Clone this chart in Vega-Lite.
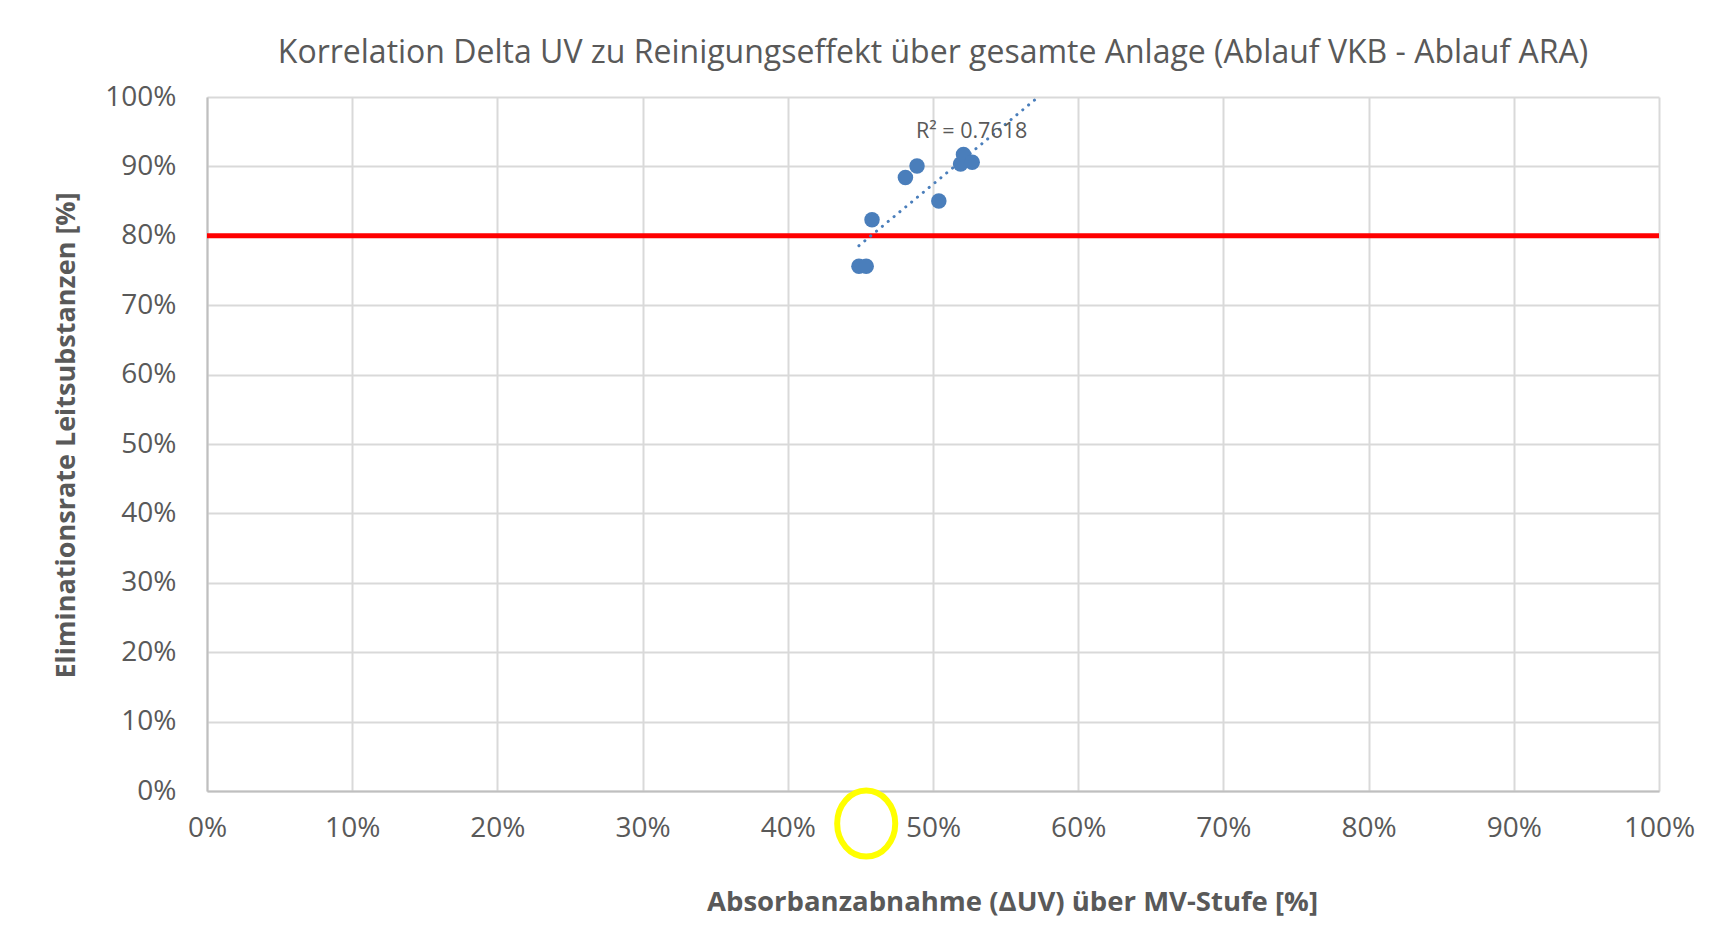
{
  "$schema": "https://vega.github.io/schema/vega-lite/v6.json",
  "width": 1452,
  "height": 694,
  "autosize": {"type": "none"},
  "padding": {"left": 207, "top": 97, "right": 66, "bottom": 142},
  "background": "white",
  "config": {
    "font": "Open Sans",
    "view": {"stroke": null},
    "axis": {"labelFont": "Open Sans", "titleFont": "Open Sans"}
  },
  "title": {
    "text": "Korrelation Delta UV zu Reinigungseffekt über gesamte Anlage (Ablauf VKB - Ablauf ARA)",
    "font": "Open Sans",
    "fontSize": 32,
    "fontWeight": "normal",
    "color": "#595959",
    "anchor": "middle",
    "offset": 13
  },
  "datasets": {
    "points": [
      {"uv": 0.449, "elim": 0.756},
      {"uv": 0.454, "elim": 0.756},
      {"uv": 0.458, "elim": 0.823},
      {"uv": 0.481, "elim": 0.884},
      {"uv": 0.489, "elim": 0.9006},
      {"uv": 0.504, "elim": 0.85},
      {"uv": 0.519, "elim": 0.9035},
      {"uv": 0.521, "elim": 0.917},
      {"uv": 0.527, "elim": 0.906}
    ],
    "trend": [
      {"uv": 0.449, "elim": 0.7857},
      {"uv": 0.5725, "elim": 1.0}
    ],
    "limit": [{"elim": 0.8}],
    "r2": [{"uv": 0.5266, "elim": 0.95, "label": "R² = 0.7618"}],
    "marker": [{"uv": 0.454, "elim": -0.047}]
  },
  "layer": [
    {
      "data": {"name": "points"},
      "mark": {"type": "point", "opacity": 0},
      "encoding": {
        "x": {
          "field": "uv", "type": "quantitative",
          "scale": {"domain": [0, 1], "nice": false, "zero": false},
          "axis": {
            "values": [0, 0.1, 0.2, 0.3, 0.4, 0.5, 0.6, 0.7, 0.8, 0.9, 1],
            "format": ".0%",
            "title": "Absorbanzabnahme (ΔUV) über MV-Stufe [%]",
            "titleFontSize": 27.5,
            "titleFontWeight": "bold",
            "titleColor": "#595959",
            "titleX": 805,
            "titleY": 111,
            "titleBaseline": "middle",
            "titleAlign": "center",
            "labelFontSize": 28,
            "labelColor": "#595959",
            "labelPadding": 23,
            "labelFlush": false,
            "labelOverlap": false,
            "ticks": false,
            "tickSize": 0,
            "domainColor": "#bfbfbf",
            "domainWidth": 2,
            "grid": true,
            "gridColor": "#d9d9d9",
            "gridWidth": 2
          }
        },
        "y": {
          "field": "elim", "type": "quantitative",
          "scale": {"domain": [0, 1], "nice": false, "zero": false},
          "axis": {
            "values": [0, 0.1, 0.2, 0.3, 0.4, 0.5, 0.6, 0.7, 0.8, 0.9, 1],
            "format": ".0%",
            "title": "Eliminationsrate Leitsubstanzen [%]",
            "titleFontSize": 27,
            "titleFontWeight": "bold",
            "titleColor": "#595959",
            "titleAngle": -90,
            "titleX": -141,
            "titleY": 338,
            "titleBaseline": "middle",
            "titleAlign": "center",
            "labelFontSize": 28,
            "labelColor": "#595959",
            "labelPadding": 31,
            "labelFlush": false,
            "labelOverlap": false,
            "ticks": false,
            "tickSize": 0,
            "domainColor": "#bfbfbf",
            "domainWidth": 2,
            "grid": true,
            "gridColor": "#d9d9d9",
            "gridWidth": 2
          }
        }
      }
    },
    {
      "data": {"name": "limit"},
      "mark": {"type": "rule", "color": "#ff0000", "strokeWidth": 5},
      "encoding": {"y": {"field": "elim", "type": "quantitative"}}
    },
    {
      "data": {"name": "trend"},
      "mark": {"type": "line", "color": "#4a7ebb", "strokeWidth": 3, "strokeDash": [0.1, 7.5], "strokeCap": "round"},
      "encoding": {
        "x": {"field": "uv", "type": "quantitative"},
        "y": {"field": "elim", "type": "quantitative"}
      }
    },
    {
      "data": {"name": "points"},
      "mark": {"type": "circle", "color": "#4a7ebb", "opacity": 1, "size": 240},
      "encoding": {
        "x": {"field": "uv", "type": "quantitative"},
        "y": {"field": "elim", "type": "quantitative"}
      }
    },
    {
      "data": {"name": "r2"},
      "mark": {"type": "text", "fontSize": 21.5, "color": "#595959", "font": "Open Sans", "align": "center", "baseline": "middle"},
      "encoding": {
        "x": {"field": "uv", "type": "quantitative"},
        "y": {"field": "elim", "type": "quantitative"},
        "text": {"field": "label"}
      }
    },
    {
      "data": {"name": "marker"},
      "mark": {"type": "point", "shape": "M -0.88 0 A 0.88 1 0 1 0 0.88 0 A 0.88 1 0 1 0 -0.88 0 Z", "filled": false, "stroke": "#ffff00", "strokeWidth": 6, "size": 4356, "opacity": 1, "clip": false},
      "encoding": {
        "x": {"field": "uv", "type": "quantitative"},
        "y": {"field": "elim", "type": "quantitative"}
      }
    }
  ]
}
